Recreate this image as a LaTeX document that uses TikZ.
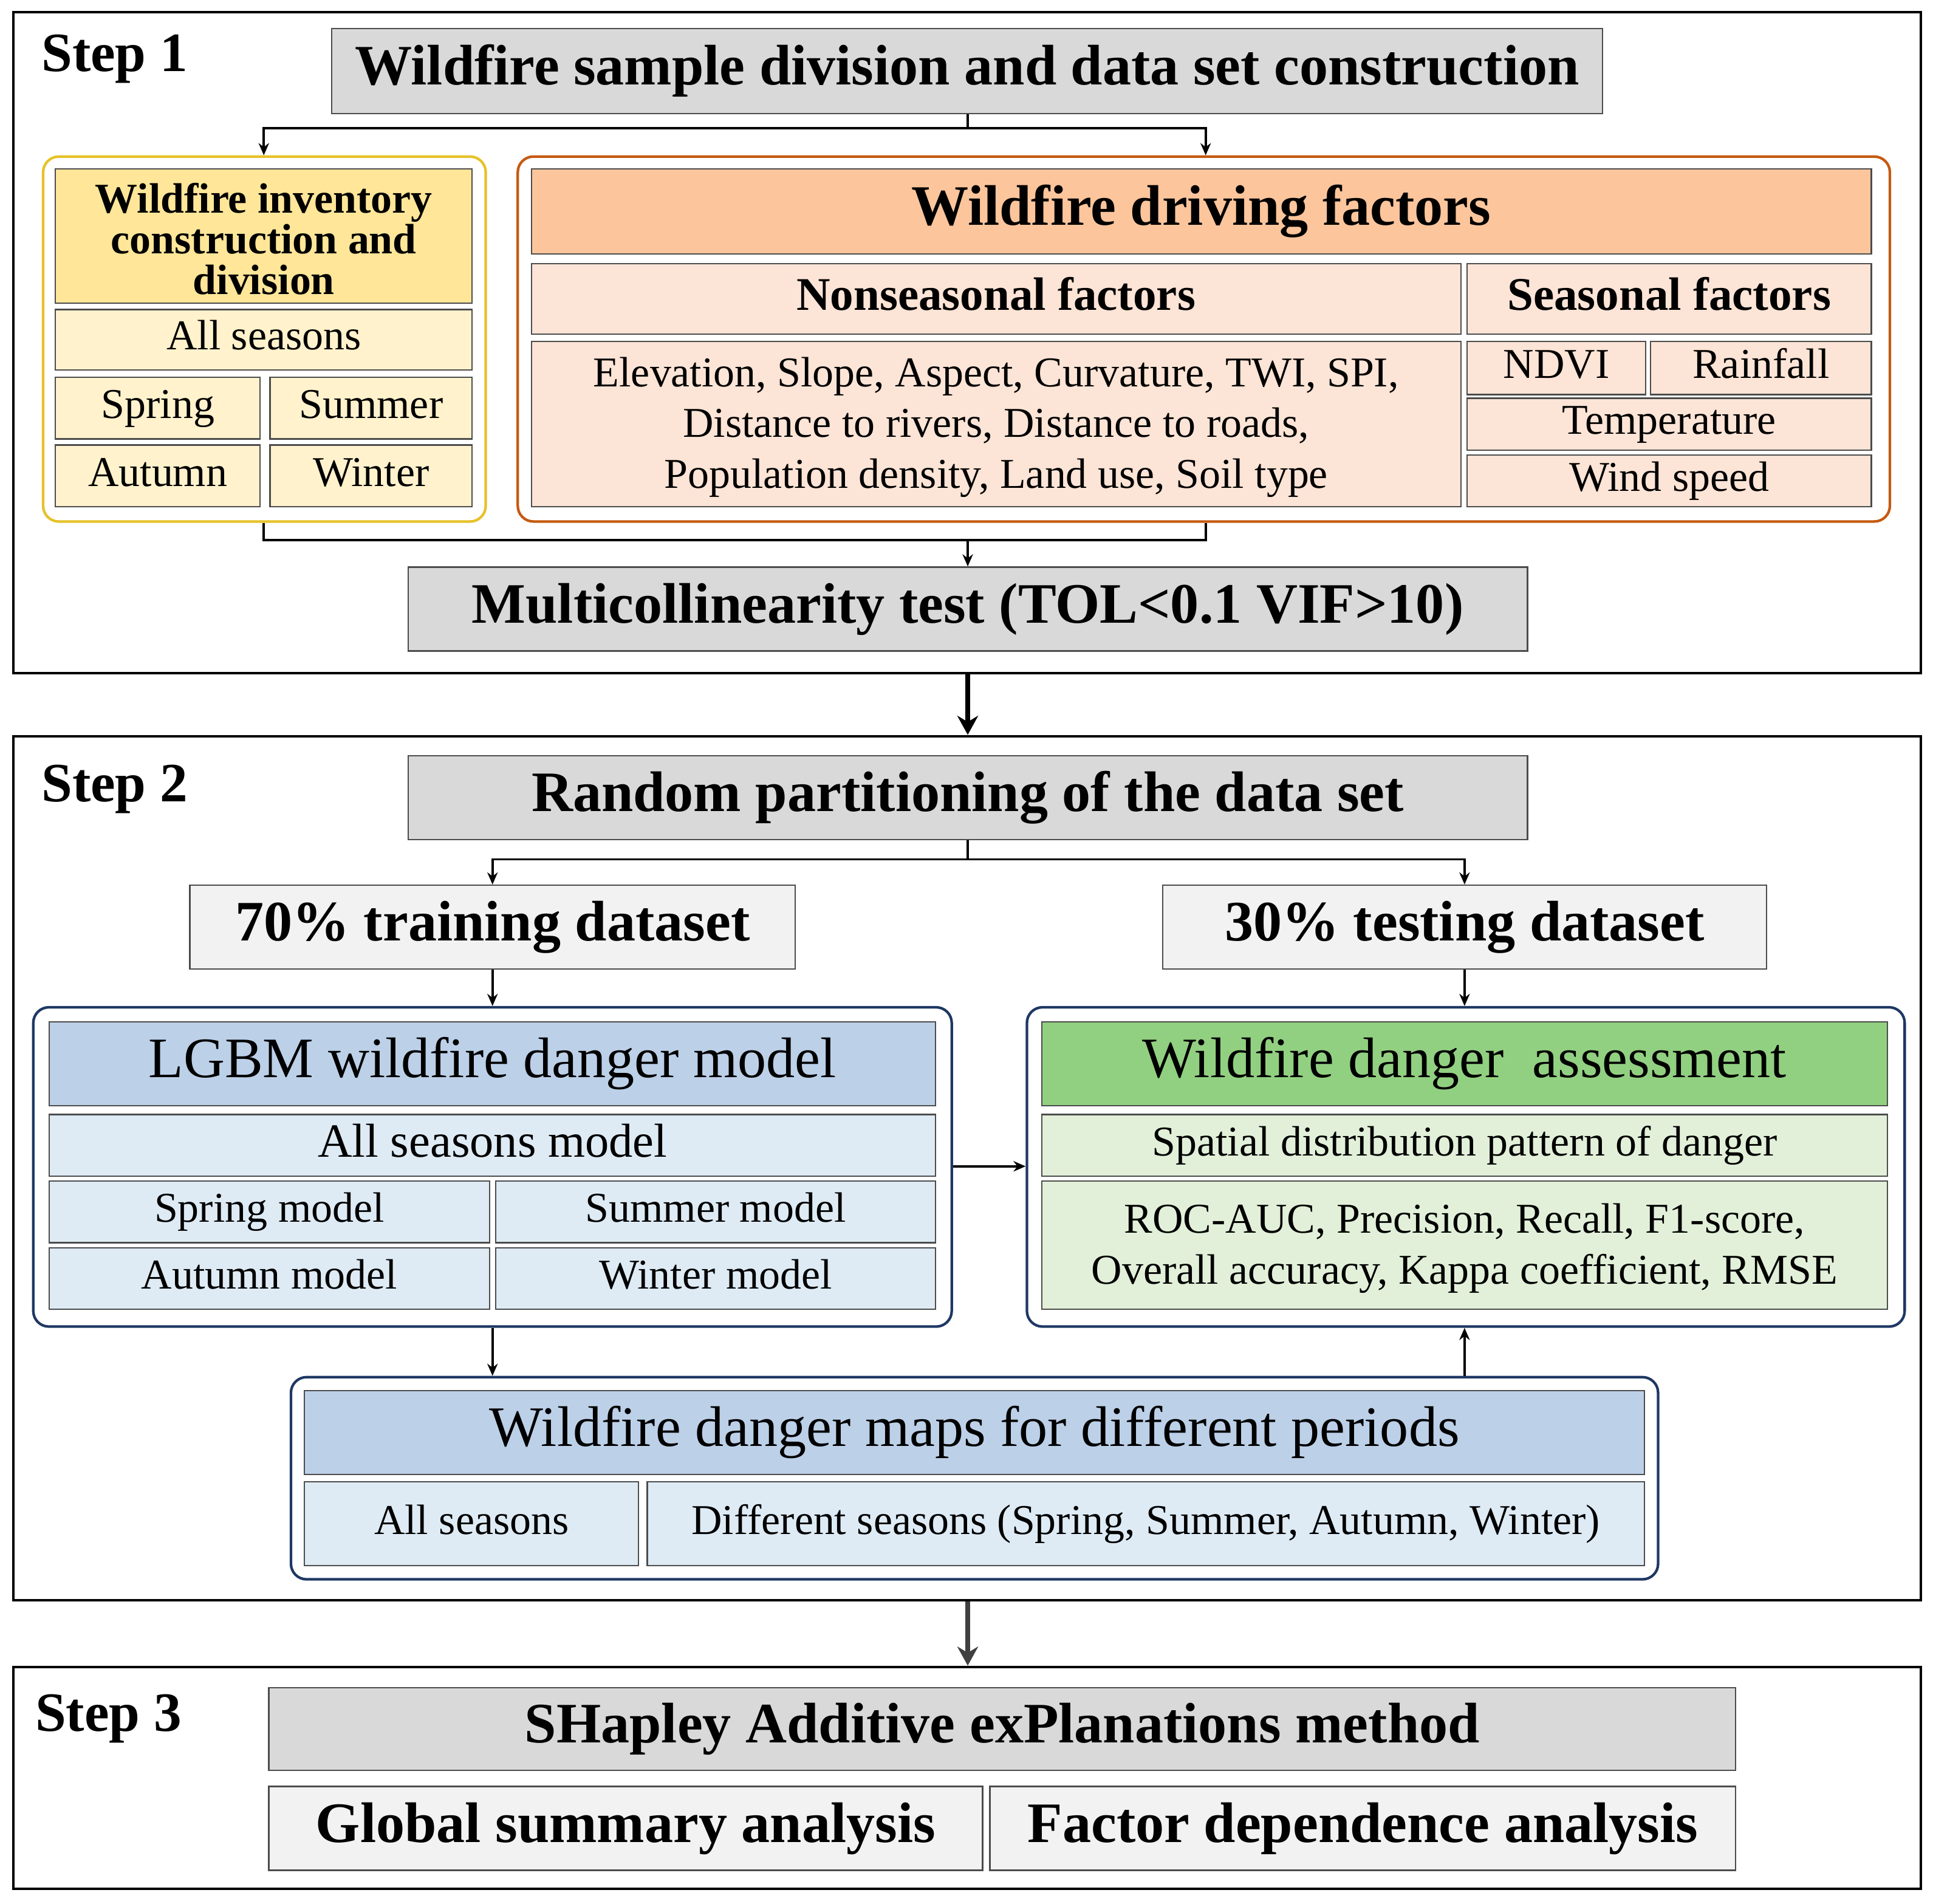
\documentclass[tikz,border=0pt]{standalone}
\usepackage{fontspec}
\setmainfont{Liberation Serif}
\usetikzlibrary{fit,arrows.meta}
\definecolor{gA}{HTML}{D9D9D9}
\definecolor{gB}{HTML}{F2F2F2}
\definecolor{yA}{HTML}{FFE699}
\definecolor{yB}{HTML}{FFF2CC}
\definecolor{yL}{HTML}{E6C229}
\definecolor{oA}{HTML}{FCC59C}
\definecolor{oB}{HTML}{FCE4D6}
\definecolor{oL}{HTML}{C55A11}
\definecolor{bA}{HTML}{BCD0E8}
\definecolor{bB}{HTML}{DEEBF5}
\definecolor{bL}{HTML}{1F3864}
\definecolor{nA}{HTML}{92D081}
\definecolor{nB}{HTML}{E2F0D9}
\newcommand{\fs}[1]{\fontsize{#1}{\dimexpr #1pt*120/100\relax}\selectfont}
\newcommand{\bx}[8]{\node[box,fill=#6,fit={(#2,#3)(#4,#5)}] (#1) {}; \node[font=#7,align=center,inner sep=0pt] at (#1.center) {\strut #8};}
\begin{document}
\begin{tikzpicture}[x=0.05cm,y=-0.05cm,
  box/.style={draw=black!70,line width=1.6pt,inner sep=0pt},
  grp/.style={draw,line width=3pt,rounded corners=18pt,inner sep=0pt},
  frm/.style={draw,line width=2.8pt,inner sep=0pt},
  con/.style={line width=2.6pt},
  arr/.style={line width=2.6pt,-{Stealth[length=14pt,width=12pt]}},
  big/.style={line width=6pt,-{Stealth[length=22pt,width=24pt]}}]
\useasboundingbox (0,0) rectangle (1568,1544);
% frames
\node[frm,fit={(11,10)(1558,546)}] (f1) {};
\node[frm,fit={(11,597)(1558,1298)}] (f2) {};
\node[frm,fit={(11,1352)(1558,1532)}] (f3) {};
\node[font=\fs{64}\bfseries] (s1) at (93,48) {Step 1};
\node[font=\fs{64}\bfseries] (s2) at (93,640) {Step 2};
\node[font=\fs{64}\bfseries] (s3) at (88,1394) {Step 3};
% step 1
\bx{t1}{269}{23}{1300}{92}{gA}{\fs{66}\bfseries}{Wildfire sample division and data set construction}
\node[grp,draw=yL,fit={(35,127)(394,423)}] (gy) {};
\node[grp,draw=oL,fit={(420,127)(1533,423)}] (go) {};
\bx{inv}{45}{137}{383}{246}{yA}{\fs{49}\bfseries}{Wildfire inventory\\[-12pt]construction and\\[-12pt]division}
\bx{alls}{45}{251}{383}{300}{yB}{\fs{49}}{All seasons}
\bx{spr}{45}{306}{211}{356}{yB}{\fs{49}}{Spring}
\bx{sum}{219}{306}{383}{356}{yB}{\fs{49}}{Summer}
\bx{aut}{45}{361}{211}{411}{yB}{\fs{49}}{Autumn}
\bx{win}{219}{361}{383}{411}{yB}{\fs{49}}{Winter}
\bx{wdf}{431}{137}{1518}{206}{oA}{\fs{66}\bfseries}{Wildfire driving factors}
\bx{nons}{431}{214}{1185}{271}{oB}{\fs{54}\bfseries}{Nonseasonal factors}
\bx{seas}{1190}{214}{1518}{271}{oB}{\fs{54}\bfseries}{Seasonal factors}
\bx{elev}{431}{277}{1185}{411}{oB}{\fs{49}}{Elevation, Slope, Aspect, Curvature, TWI, SPI,\\Distance to rivers, Distance to roads,\\Population density, Land use, Soil type}
\bx{ndvi}{1190}{277}{1335}{320}{oB}{\fs{49}}{NDVI}
\bx{rain}{1339}{277}{1518}{320}{oB}{\fs{49}}{Rainfall}
\bx{temp}{1190}{323}{1518}{365}{oB}{\fs{49}}{Temperature}
\bx{wind}{1190}{369}{1518}{411}{oB}{\fs{49}}{Wind speed}
\bx{mc}{331}{460}{1239}{528}{gA}{\fs{66}\bfseries}{Multicollinearity test (TOL<0.1 VIF>10)}
\coordinate (j1) at (785,104); \coordinate (j1l) at (214,104); \coordinate (j1r) at (978,104);
\draw[con] (t1.south -| j1) -- (j1);
\draw[arr] (j1) -| (gy.north -| j1l);
\draw[arr] (j1) -| (go.north -| j1r);
\coordinate (j2) at (785,438);
\draw[con] (gy.south -| j1l) |- (j2);
\draw[con] (go.south -| j1r) |- (j2);
\draw[arr] (j2) -- (mc.north -| j2);
\draw[big] (f1.south -| j2) -- (f2.north -| j2);
% step 2
\bx{rp}{331}{613}{1239}{681}{gA}{\fs{66}\bfseries}{Random partitioning of the data set}
\bx{tr}{154}{718}{645}{786}{gB}{\fs{66}\bfseries}{70\% training dataset}
\bx{te}{943}{718}{1433}{786}{gB}{\fs{66}\bfseries}{30\% testing dataset}
\coordinate (j3) at (785,697);
\draw[con] (rp.south -| j3) -- (j3);
\draw[arr] (j3) -| (tr.north);
\draw[arr] (j3) -| (te.north);
\node[grp,draw=bL,fit={(27,817)(772,1076)}] (gl) {};
\node[grp,draw=bL,fit={(833,817)(1545,1076)}] (ga) {};
\node[grp,draw=bL,fit={(236,1117)(1345,1281)}] (gm) {};
\draw[arr] (tr.south) -- (gl.north -| tr.south);
\draw[arr] (te.south) -- (ga.north -| te.south);
\bx{lg}{40}{829}{759}{897}{bA}{\fs{66}}{LGBM wildfire danger model}
\bx{alm}{40}{904}{759}{954}{bB}{\fs{55}}{All seasons model}
\bx{spm}{40}{958}{397}{1008}{bB}{\fs{49}}{Spring model}
\bx{sum2}{402}{958}{759}{1008}{bB}{\fs{49}}{Summer model}
\bx{aum}{40}{1012}{397}{1062}{bB}{\fs{49}}{Autumn model}
\bx{wim}{402}{1012}{759}{1062}{bB}{\fs{49}}{Winter model}
\bx{wda}{845}{829}{1531}{897}{nA}{\fs{66}}{Wildfire danger\ \ assessment}
\bx{sp}{845}{904}{1531}{954}{nB}{\fs{49}}{Spatial distribution pattern of danger}
\bx{roc}{845}{958}{1531}{1062}{nB}{\fs{49}}{ROC-AUC, Precision, Recall, F1-score,\\Overall accuracy, Kappa coefficient, RMSE}
\bx{wm}{247}{1128}{1334}{1196}{bA}{\fs{66}}{Wildfire danger maps for different periods}
\bx{wma}{247}{1202}{518}{1270}{bB}{\fs{49}}{All seasons}
\bx{wmd}{525}{1202}{1334}{1270}{bB}{\fs{49}}{Different seasons (Spring, Summer, Autumn, Winter)}
\coordinate (h) at (0,946);
\draw[arr] (gl.east |- h) -- (ga.west |- h);
\draw[arr] (gl.south -| tr.south) -- (gm.north -| tr.south);
\draw[arr] (gm.north -| te.south) -- (ga.south -| te.south);
\draw[big,draw=black!75,fill=black!75] (f2.south -| j2) -- (f3.north -| j2);
% step 3
\bx{sh}{218}{1369}{1408}{1436}{gA}{\fs{66}\bfseries}{SHapley Additive exPlanations method}
\bx{gs}{218}{1449}{797}{1517}{gB}{\fs{66}\bfseries}{Global summary analysis}
\bx{fd}{803}{1449}{1408}{1517}{gB}{\fs{66}\bfseries}{Factor dependence analysis}
\end{tikzpicture}
\end{document}
